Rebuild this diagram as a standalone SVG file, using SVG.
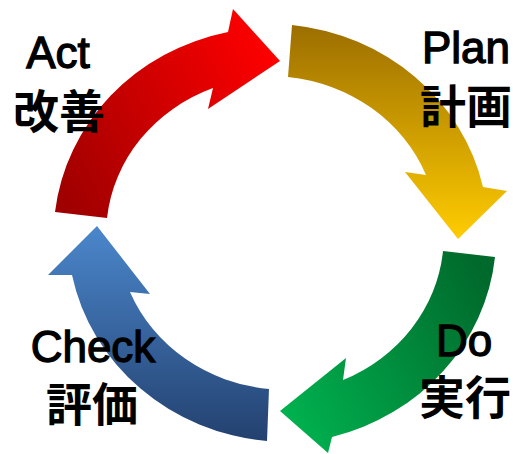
<svg xmlns="http://www.w3.org/2000/svg" width="513" height="454" viewBox="0 0 513 454">
<style>
.lat{font-family:"Liberation Sans",Arial,sans-serif;font-size:44px;fill:#000;stroke:#000;stroke-width:1.3px;text-anchor:middle}
.cjk{font-family:"Noto Sans CJK JP","Noto Sans CJK SC",sans-serif;font-size:46px;fill:#000;text-anchor:middle;font-weight:bold}
</style>
<defs>
<linearGradient id="gRed" gradientUnits="userSpaceOnUse" x1="55" y1="180" x2="280" y2="60">
<stop offset="0" stop-color="#a00000"/><stop offset="1" stop-color="#ff0000"/>
</linearGradient>
<linearGradient id="gGold" gradientUnits="userSpaceOnUse" x1="0" y1="25" x2="0" y2="239">
<stop offset="0" stop-color="#9c6e00"/><stop offset="1" stop-color="#ffcc00"/>
</linearGradient>
<linearGradient id="gGreen" gradientUnits="userSpaceOnUse" x1="495" y1="300" x2="280" y2="420">
<stop offset="0" stop-color="#006a2c"/><stop offset="1" stop-color="#00b350"/>
</linearGradient>
<linearGradient id="gBlue" gradientUnits="userSpaceOnUse" x1="0" y1="226" x2="0" y2="441">
<stop offset="0" stop-color="#4b87cc"/><stop offset="1" stop-color="#23416f"/>
</linearGradient>
</defs>
<g id="connectors">
<path id="arrow-act" fill="url(#gRed)" d="M55 212 A220 208 0 0 1 228 32 L233 9 L280 61 L208 109 L213 88 A168 157 0 0 0 107 218 Z"/>
<path id="arrow-plan" fill="url(#gGold)" d="M292 25 A220 208 0 0 1 483 187 L507 191 L458 239 L405 172 L426 175 A168 157 0 0 0 288 77 Z"/>
<path id="arrow-do" fill="url(#gGreen)" d="M495 257 A220 208 0 0 1 332 437 L328 453 L280 411 L346 358 L343 380 A168 157 0 0 0 443 251 Z"/>
<path id="arrow-check" fill="url(#gBlue)" d="M267 441 A220 208 0 0 1 72 275 L48 275 L97 226 L150 294 L130 292 A168 157 0 0 0 269 389 Z"/>
</g>
<g id="act"><text class="lat" x="58" y="68">Act</text><text class="cjk" x="59" y="128">改善</text></g>
<g id="plan"><text class="lat" x="466" y="63">Plan</text><text class="cjk" x="466" y="123">計画</text></g>
<g id="do"><text class="lat" x="464" y="356">Do</text><text class="cjk" x="465" y="414">実行</text></g>
<g id="check"><text class="lat" x="93" y="362">Check</text><text class="cjk" x="92" y="421">評価</text></g>
</svg>
